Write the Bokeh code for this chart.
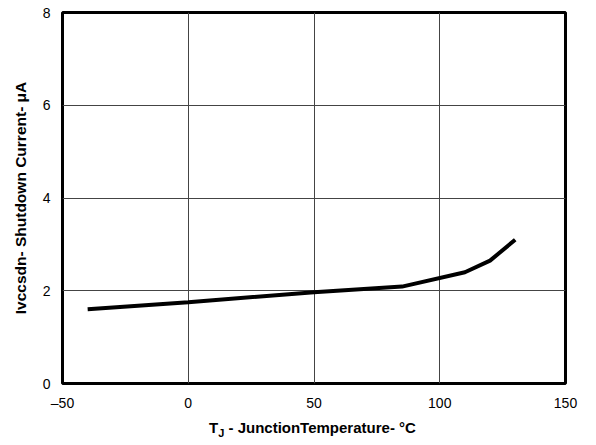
from bokeh.plotting import figure
from bokeh.models import Range1d, FixedTicker, Div
from bokeh.layouts import column
from bokeh.embed import file_html
from bokeh.resources import INLINE

temps = [-40, 0, 50, 85, 110, 120, 130]
current = [1.60, 1.75, 1.97, 2.09, 2.40, 2.65, 3.10]
x_ticks = [-50, 0, 50, 100, 150]
y_ticks = [0, 2, 4, 6, 8]
x_tick_labels = {-50: "\u201350", 0: "0", 50: "50", 100: "100", 150: "150"}
y_title = "Ivccsdn- Shutdown Current- \u03bcA"
x_title_main = "T"
x_title_sub = "J"
x_title_rest = " - JunctionTemperature- \u00b0C"

FONT = "Liberation Sans"

p = figure(width=596, height=420, output_backend="svg", toolbar_location=None,
           x_range=Range1d(-50, 150), y_range=Range1d(0, 8),
           min_border_left=62, min_border_right=31, min_border_top=12, min_border_bottom=37)

p.line(temps, current, line_color="black", line_width=4)

p.outline_line_color = "black"
p.outline_line_width = 3
p.outline_line_alpha = 1

for ax in (p.xaxis, p.yaxis):
    ax.axis_line_color = None
    ax.major_tick_line_color = None
    ax.minor_tick_line_color = None
    ax.major_tick_out = 0
    ax.major_tick_in = 0
    ax.minor_tick_out = 0
    ax.minor_tick_in = 0
    ax.major_label_text_font = FONT
    ax.major_label_text_font_size = "14px"
    ax.major_label_text_color = "black"

p.xaxis.ticker = FixedTicker(ticks=x_ticks)
p.yaxis.ticker = FixedTicker(ticks=y_ticks)
p.xaxis.major_label_overrides = x_tick_labels
p.xaxis.major_label_standoff = 11
p.yaxis.major_label_standoff = 12

p.yaxis.axis_label = y_title
p.yaxis.axis_label_text_font = FONT
p.yaxis.axis_label_text_font_style = "bold"
p.yaxis.axis_label_text_font_size = "15.5px"
p.yaxis.axis_label_text_color = "black"
p.yaxis.axis_label_standoff = 11

p.xgrid.ticker = FixedTicker(ticks=x_ticks)
p.ygrid.ticker = FixedTicker(ticks=y_ticks)
for g in (p.xgrid, p.ygrid):
    g.grid_line_color = "#444444"
    g.grid_line_width = 1
    g.grid_line_alpha = 1

title_html = (f'{x_title_main}<span style="font-size:11px; position:relative; top:4px;">'
              f'{x_title_sub}</span>{x_title_rest}')
xt = Div(text=title_html, width=387, height=25, margin=(0, 0, 0, 209),
         styles={"font-family": FONT, "font-weight": "bold", "font-size": "15px",
                 "line-height": "15px", "color": "black", "white-space": "nowrap"})

layout = column(p, xt, spacing=0)

open("out.html", "w").write(file_html(layout, INLINE))
